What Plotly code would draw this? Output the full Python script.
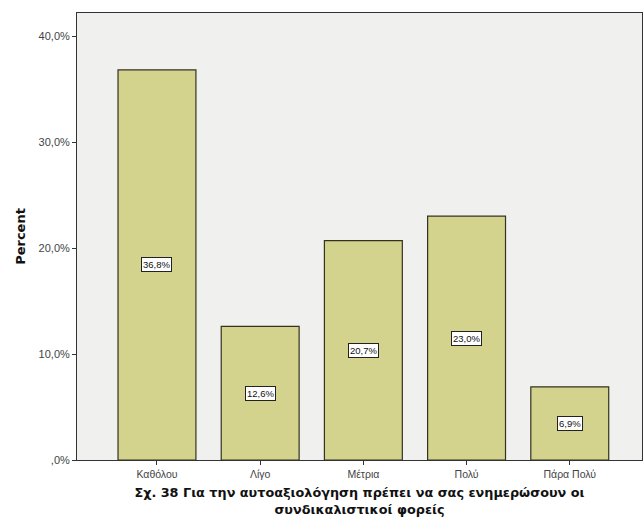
import plotly.graph_objects as go

categories = ["Καθόλου", "Λίγο", "Μέτρια", "Πολύ", "Πάρα Πολύ"]
percent = [36.8, 12.6, 20.7, 23.0, 6.9]
value_labels = ["36,8%", "12,6%", "20,7%", "23,0%", "6,9%"]
y_tick_vals = [0, 10, 20, 30, 40]
y_tick_text = [",0%", "10,0%", "20,0%", "30,0%", "40,0%"]

x_title = ("Σχ. 38 Για την αυτοαξιολόγηση πρέπει να σας ενημερώσουν οι<br>"
           "συνδικαλιστικοί φορείς")

FONT = "Liberation Sans, Arial, sans-serif"
TITLE_FONT = "DejaVu Sans, Arial, sans-serif"
xpos = list(range(len(categories)))

fig = go.Figure()
fig.add_trace(go.Bar(
    x=xpos, y=percent, width=0.755,
    marker=dict(color="#d3d38e", line=dict(color="#33331f", width=1.2)),
    hoverinfo="skip",
))

# value boxes at half height of each bar
for xi, v, lab in zip(xpos, percent, value_labels):
    fig.add_annotation(
        x=xi, y=v / 2, text=lab, showarrow=False,
        font=dict(family=FONT, size=9.5, color="#111"),
        bgcolor="white", bordercolor="#222", borderwidth=1, borderpad=1,
    )

fig.update_layout(
    width=643, height=522, autosize=False,
    margin=dict(l=77, r=1, t=13, b=62),
    paper_bgcolor="white", plot_bgcolor="#f0f0ee",
    showlegend=False,
    font=dict(family=FONT, size=9, color="#333"),
    xaxis=dict(
        range=[-0.775, 4.7], tickvals=xpos, ticktext=categories,
        ticks="outside", ticklen=4, tickcolor="#333",
        showline=True, linecolor="#333", linewidth=1, mirror=True,
        showgrid=False, zeroline=False,
        tickfont=dict(size=10.5, color="#444"),
        title=dict(text=x_title, standoff=9,
                   font=dict(family=TITLE_FONT, size=12.8, color="#111",
                             weight="bold")),
    ),
    yaxis=dict(
        range=[0, 42.17], tickvals=y_tick_vals, ticktext=y_tick_text,
        ticks="outside", ticklen=4, tickcolor="#333",
        showline=True, linecolor="#333", linewidth=1, mirror=True,
        showgrid=False, zeroline=False,
        tickfont=dict(size=11, color="#444"),
        title=dict(text="Percent", standoff=10,
                   font=dict(family=TITLE_FONT, size=13, color="#111",
                             weight="bold")),
    ),
)

fig.write_html("out.html")
